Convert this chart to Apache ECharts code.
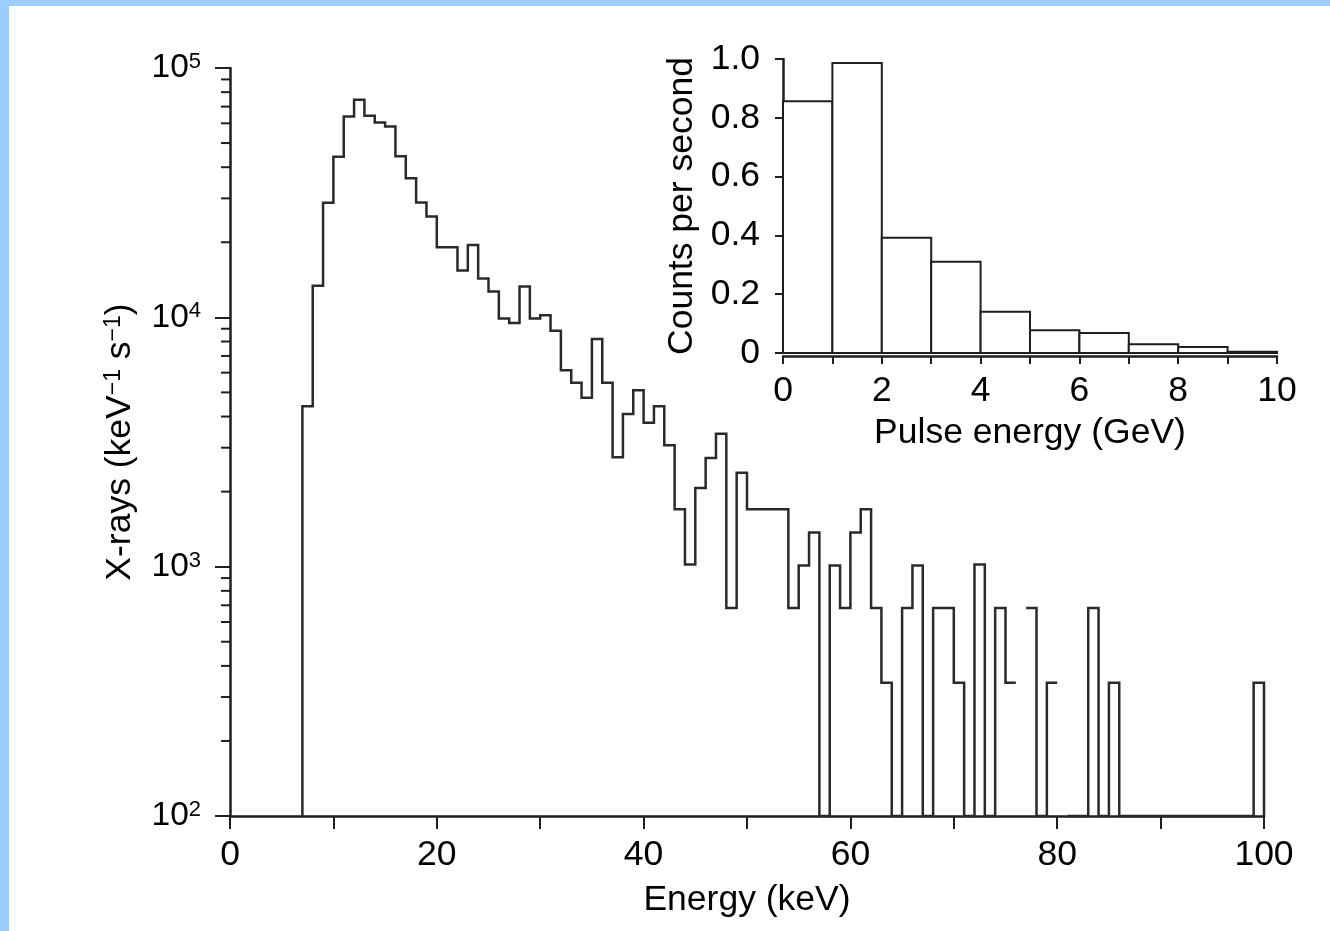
<!DOCTYPE html>
<html><head><meta charset="utf-8">
<script src="https://cdn.jsdelivr.net/npm/echarts@6/dist/echarts.min.js"></script>
<style>
html,body{margin:0;padding:0;background:#fff;}
#c{position:absolute;left:0;top:0;width:1330px;height:931px;}
#ft{position:absolute;left:0;top:0;width:1330px;height:6px;background:#9ccdff;}
#fl{position:absolute;left:0;top:0;width:9px;height:931px;background:#9ccdff;}
</style></head><body>
<div id="c"></div><div id="ft"></div><div id="fl"></div>
<script>
// ---------- data ----------
// Main X-ray spectrum, 1-keV bins, first bin starts at binStart keV.
// 0 = empty bin (drawn down to the axis floor), null = bin not drawn at all
const binStart = 7;
const xrayRates = [
  4400, 13400, 28800, 44100, 63900, 74600, 64300, 60400, 58200, 44300, // 7-16
  36100, 28900, 25400, 19100, 19100, 15400, 19500, 14300, 12700, 9900,  // 17-26
  9480, 13300, 9900, 10200, 8830, 6140, 5470, 4760, 8180, 5470,         // 27-36
  2750, 4100, 5100, 3780, 4400, 3070, 1700, 1020, 2070, 2730,           // 37-46
  3410, 683, 2380, 1700, 1700, 1700, 1700, 683, 1010, 1370,             // 47-56
  0, 1010, 683, 1370, 1700, 683, 342, 0, 683, 1010,                     // 57-66
  0, 683, 683, 342, 0, 1020, 0, 683, 342, null,                         // 67-76
  683, 0, 342, null, 0, 0, 683, 0, 342, 0,                              // 77-86
  0, 0, 0, 0, 0, 0, 0, 0, 0, 0,                                         // 87-96
  0, 0, 342                                                             // 97-99
];
const yMinorTicks = [200,300,400,500,600,700,800,900,
                     2000,3000,4000,5000,6000,7000,8000,9000,
                     20000,30000,40000,50000,60000,70000,80000,90000];

// Inset: pulse-energy histogram
const pulseBinEdges = [0,1,2,3,4,5,6,7,8,9,10];
const pulseCounts = [0.856, 0.986, 0.392, 0.310, 0.140, 0.077, 0.068, 0.030, 0.020, 0.004];

// ---------- build ----------
const FONT = '"Liberation Sans", Arial, Helvetica, sans-serif';
const INK = '#1e1e1e';
const FS = 35.5;
const FLOOR = 100;
const steps = [[binStart, FLOOR]];
xrayRates.forEach((v, i) => {
  const lo = binStart + i, hi = lo + 1;
  if (v === null) { steps.push([lo, '-']); return; }
  const y = v === 0 ? FLOOR : v;
  steps.push([lo, y], [hi, y]);
});
steps.push([binStart + xrayRates.length, FLOOR]);

const chart = echarts.init(document.getElementById('c'), null, {renderer: 'canvas'});
const txt = {color: '#000', fontFamily: FONT};
chart.setOption({
  animation: false,
  backgroundColor: '#fff',
  grid: [
    {left: 230, right: 66, top: 68, bottom: 115},
    {left: 783, right: 53, top: 59, bottom: 578}
  ],
  xAxis: [
    {
      gridIndex: 0, type: 'value', min: 0, max: 100, interval: 10,
      axisLine: {show: true, onZero: false, lineStyle: {color: INK, width: 2.5}},
      axisTick: {show: true, inside: false, length: 13, lineStyle: {color: INK, width: 2}},
      axisLabel: Object.assign({fontSize: FS, margin: 21,
        formatter: v => (v % 20 === 0 ? String(v) : '')}, txt),
      splitLine: {show: false},
      name: 'Energy (keV)', nameLocation: 'middle', nameGap: 66,
      nameTextStyle: Object.assign({fontSize: FS}, txt)
    },
    {
      gridIndex: 1, type: 'value', min: 0, max: 10, interval: 1, offset: 3,
      axisLine: {show: true, onZero: false, lineStyle: {color: INK, width: 2.5}},
      axisTick: {show: true, inside: false, length: 8, lineStyle: {color: INK, width: 2}},
      axisLabel: Object.assign({fontSize: FS, margin: 17,
        formatter: v => (v % 2 === 0 ? String(v) : '')}, txt),
      splitLine: {show: false},
      name: 'Pulse energy (GeV)', nameLocation: 'middle', nameGap: 59,
      nameTextStyle: Object.assign({fontSize: FS}, txt)
    }
  ],
  yAxis: [
    {
      gridIndex: 0, type: 'log', logBase: 10, min: 100, max: 100000,
      axisLine: {show: true, lineStyle: {color: INK, width: 2.5}},
      axisTick: {show: true, inside: false, length: 15, lineStyle: {color: INK, width: 2}},
      axisLabel: {
        margin: 29,
        formatter: v => '{b|10}{s|' + Math.round(Math.log10(v)) + '}',
        rich: {
          b: {fontSize: 33.5, fontFamily: FONT, color: '#000'},
          s: {fontSize: 22, fontFamily: FONT, color: '#000', verticalAlign: 'top'}
        }
      },
      splitLine: {show: false},
      name: 'X-rays (keV{s|\u22121} s{s|\u22121})', nameLocation: 'middle', nameRotate: 90, nameGap: 92,
      nameTextStyle: {
        fontSize: FS, fontFamily: FONT, color: '#000',
        rich: {s: {fontSize: 23, fontFamily: FONT, color: '#000', verticalAlign: 'top'}}
      }
    },
    {
      gridIndex: 1, type: 'value', min: 0, max: 1, interval: 0.2, offset: 3,
      axisLine: {show: true, lineStyle: {color: INK, width: 2.5}},
      axisTick: {show: true, inside: false, length: 8, lineStyle: {color: INK, width: 2}},
      axisLabel: Object.assign({fontSize: FS, margin: 20,
        formatter: v => (v === 0 ? '0' : v.toFixed(1))}, txt),
      splitLine: {show: false},
      name: 'Counts per second', nameLocation: 'middle', nameRotate: 90, nameGap: 80,
      nameTextStyle: Object.assign({fontSize: FS}, txt)
    }
  ],
  series: [
    {
      type: 'line', xAxisIndex: 0, yAxisIndex: 0, data: steps,
      showSymbol: false, symbol: 'none', connectNulls: false, clip: false,
      lineStyle: {color: '#2a2a2a', width: 2.5, join: 'miter'}
    },
    {
      type: 'custom', xAxisIndex: 0, yAxisIndex: 0, silent: true, clip: false,
      data: yMinorTicks.map(v => [0, v]),
      renderItem: (params, api) => {
        const p = api.coord([0, api.value(1)]);
        return {type: 'line', shape: {x1: p[0], y1: p[1], x2: p[0] - 9, y2: p[1]},
                style: {stroke: INK, lineWidth: 2}};
      }
    },
    {
      type: 'custom', xAxisIndex: 1, yAxisIndex: 1, silent: true,
      data: pulseCounts.map((v, i) => [pulseBinEdges[i], pulseBinEdges[i + 1], v]),
      encode: {x: [0, 1], y: 2},
      renderItem: (params, api) => {
        const a = api.coord([api.value(0), api.value(2)]);
        const b = api.coord([api.value(1), 0]);
        return {type: 'rect', shape: {x: a[0], y: a[1], width: b[0] - a[0], height: b[1] - a[1]},
                style: {fill: '#fff', stroke: INK, lineWidth: 2}};
      }
    }
  ]
});
</script>
</body></html>
